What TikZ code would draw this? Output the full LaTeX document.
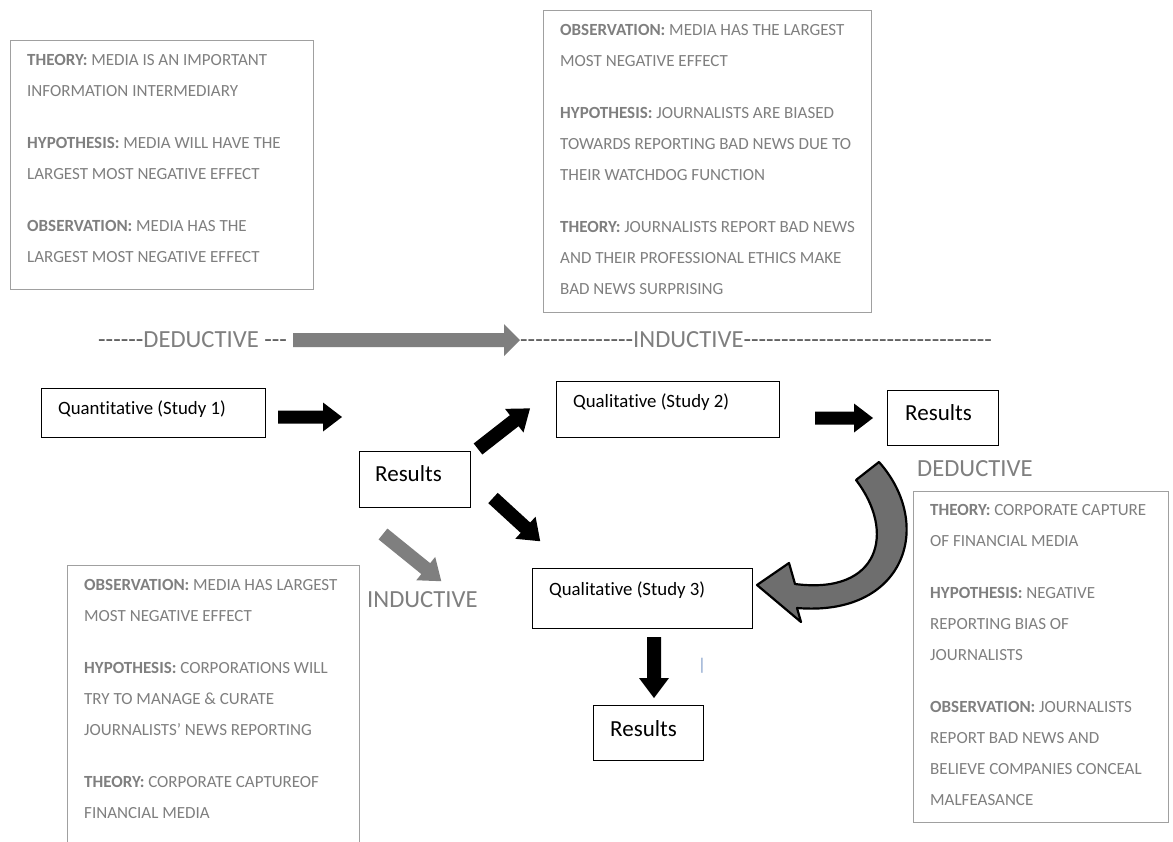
\documentclass[tikz,border=0pt]{standalone}
\usepackage{fontspec}
\setmainfont{Carlito}[Ligatures=NoCommon]
\usetikzlibrary{calc}

\definecolor{txtgray}{HTML}{7F7F7F}
\definecolor{boxgray}{HTML}{A0A0A0}
\definecolor{dashgray}{HTML}{595959}
\definecolor{arrowgray}{HTML}{7F7F7F}
\definecolor{curvegray}{HTML}{6E6E6E}
\definecolor{caretblue}{HTML}{7F9BC8}

% a run of plain hyphens (boxed so that -- does not become a dash)
\newcommand\dashrun[1]{\foreach \k in {1,...,#1}{\mbox{-}}}

\tikzset{
  infobox/.style={draw=boxgray, line width=1pt, rectangle, anchor=north west, inner sep=0pt},
  infotext/.style={anchor=north west, inner sep=0pt, align=left, text=txtgray,
                   font=\fontsize{17}{31}\selectfont},
  studybox/.style={draw=black, line width=1.1pt, rectangle, anchor=north west, inner sep=0pt},
  studytext/.style={anchor=west, inner sep=0pt, font=\fontsize{18.8}{22}\selectfont},
  resulttext/.style={anchor=west, inner sep=0pt, font=\fontsize{23}{27}\selectfont},
  biglabel/.style={anchor=base west, inner sep=0pt, text=txtgray,
                   font=\fontsize{24.6}{30}\selectfont},
  % block arrow: length / shaft half width / head half width / head length
  pics/blockarrow/.style args={#1/#2/#3/#4}{code={
    \fill[pic actions] (0,-#2) -- ({#1-#4},-#2) -- ({#1-#4},-#3) -- (#1,0)
      -- ({#1-#4},#3) -- ({#1-#4},#2) -- (0,#2) -- cycle;}},
}

\begin{document}
\begin{tikzpicture}[x=1pt, y=-1pt]
\clip (0,0) rectangle (1173,841);
\fill[white] (0,0) rectangle (1173,841);

% ---------- explanatory boxes ----------
\node[infobox, minimum width=303pt, minimum height=249pt] (b1) at (10,40) {};
\node[infotext] (t1) at (27,54.5) {\textbf{THEORY:} MEDIA IS AN IMPORTANT\\
  INFORMATION INTERMEDIARY\\[21pt]
  \textbf{HYPOTHESIS:} MEDIA WILL HAVE THE\\
  LARGEST MOST NEGATIVE EFFECT\\[21pt]
  \textbf{OBSERVATION:} MEDIA HAS THE\\
  LARGEST MOST NEGATIVE EFFECT};

\node[infobox, minimum width=328pt, minimum height=302pt] (b2) at (543,10) {};
\node[infotext] (t2) at (560,24.5) {\textbf{OBSERVATION:} MEDIA HAS THE LARGEST\\
  MOST NEGATIVE EFFECT\\[21pt]
  \textbf{HYPOTHESIS:} JOURNALISTS ARE BIASED\\
  TOWARDS REPORTING BAD NEWS DUE TO\\
  THEIR WATCHDOG FUNCTION\\[21pt]
  \textbf{THEORY:} JOURNALISTS REPORT BAD NEWS\\
  AND THEIR PROFESSIONAL ETHICS MAKE\\
  BAD NEWS SURPRISING};

\node[infobox, minimum width=292pt, minimum height=300pt] (b3) at (67,565) {};
\node[infotext] (t3) at (84,579.5) {\textbf{OBSERVATION:} MEDIA HAS LARGEST\\
  MOST NEGATIVE EFFECT\\[21pt]
  \textbf{HYPOTHESIS:} CORPORATIONS WILL\\
  TRY TO MANAGE \& CURATE\\
  JOURNALISTS’ NEWS REPORTING\\[21pt]
  \textbf{THEORY:} CORPORATE CAPTUREOF\\
  FINANCIAL MEDIA};

\node[infobox, minimum width=255pt, minimum height=331pt] (b4) at (913,491) {};
\node[infotext] (t4) at (930,504.5) {\textbf{THEORY:} CORPORATE CAPTURE\\
  OF FINANCIAL MEDIA\\[21pt]
  \textbf{HYPOTHESIS:} NEGATIVE\\
  REPORTING BIAS OF\\
  JOURNALISTS\\[21pt]
  \textbf{OBSERVATION:} JOURNALISTS\\
  REPORT BAD NEWS AND\\
  BELIEVE COMPANIES CONCEAL\\
  MALFEASANCE};

% ---------- deductive / inductive line ----------
\node[biglabel] (dl) at (98,347) {{\color{dashgray}\dashrun{6}}DEDUCTIVE {\color{dashgray}\dashrun{3}}};
\node[biglabel] (dr) at (520,347) {{\color{dashgray}\dashrun{15}}INDUCTIVE{\color{dashgray}\dashrun{33}}};
\pic[fill=arrowgray] at (293,340) {blockarrow=227/7/16/16};

% ---------- study boxes ----------
\node[studybox, minimum width=224pt, minimum height=49pt] (q1) at (41,388) {};
\node[studytext] (q1t) at (58,409) {Quantitative (Study 1)};

\node[studybox, minimum width=223pt, minimum height=56pt] (q2) at (556,381) {};
\node[studytext] (q2t) at (573,402) {Qualitative (Study 2)};

\node[studybox, minimum width=220pt, minimum height=60pt] (q3) at (532,568) {};
\node[studytext] (q3t) at (549,590) {Qualitative (Study 3)};

\node[studybox, minimum width=111pt, minimum height=56pt] (r1) at (359,451) {};
\node[resulttext] (r1t) at (375,474) {Results};

\node[studybox, minimum width=111pt, minimum height=55pt] (r2) at (887,390) {};
\node[resulttext] (r2t) at (905,413) {Results};

\node[studybox, minimum width=110pt, minimum height=55pt] (r3) at (593,705) {};
\node[resulttext] (r3t) at (610,729) {Results};

% ---------- block arrows ----------
\pic[fill=black] at (278,417) {blockarrow=64/6.5/14.5/19};
\pic[fill=black] at (815,418) {blockarrow=58/6.5/14.5/19};
\pic[fill=black, rotate=38] at (478,449) {blockarrow=66/7/15/20};
\pic[fill=black, rotate=-42.5] at (493,498) {blockarrow=64/7/15/20};
\pic[fill=arrowgray, rotate=-39] at (383,534) {blockarrow=75/7/15/20};
\pic[fill=black, rotate=-90] at (654,637) {blockarrow=61/7/15/20};

% ---------- curved arrow back to study 3 ----------
\filldraw[fill=curvegray, draw=black, line width=2.2pt, line join=round]
  (856,480) -- (879,462) .. controls (935,525) and (905,617) .. (797,608)
  -- (801,622) -- (757,585) -- (789,563) -- (795,584)
  .. controls (880,595) and (896,532) .. (856,480) -- cycle;

% ---------- side labels ----------
\node[biglabel] (ded) at (917,476) {DEDUCTIVE};
\node[biglabel] (ind) at (367,607) {INDUCTIVE};
\node[inner sep=0pt, text=caretblue, font=\fontsize{17}{20}\selectfont] (mark) at (702,666) {|};
\end{tikzpicture}
\end{document}
